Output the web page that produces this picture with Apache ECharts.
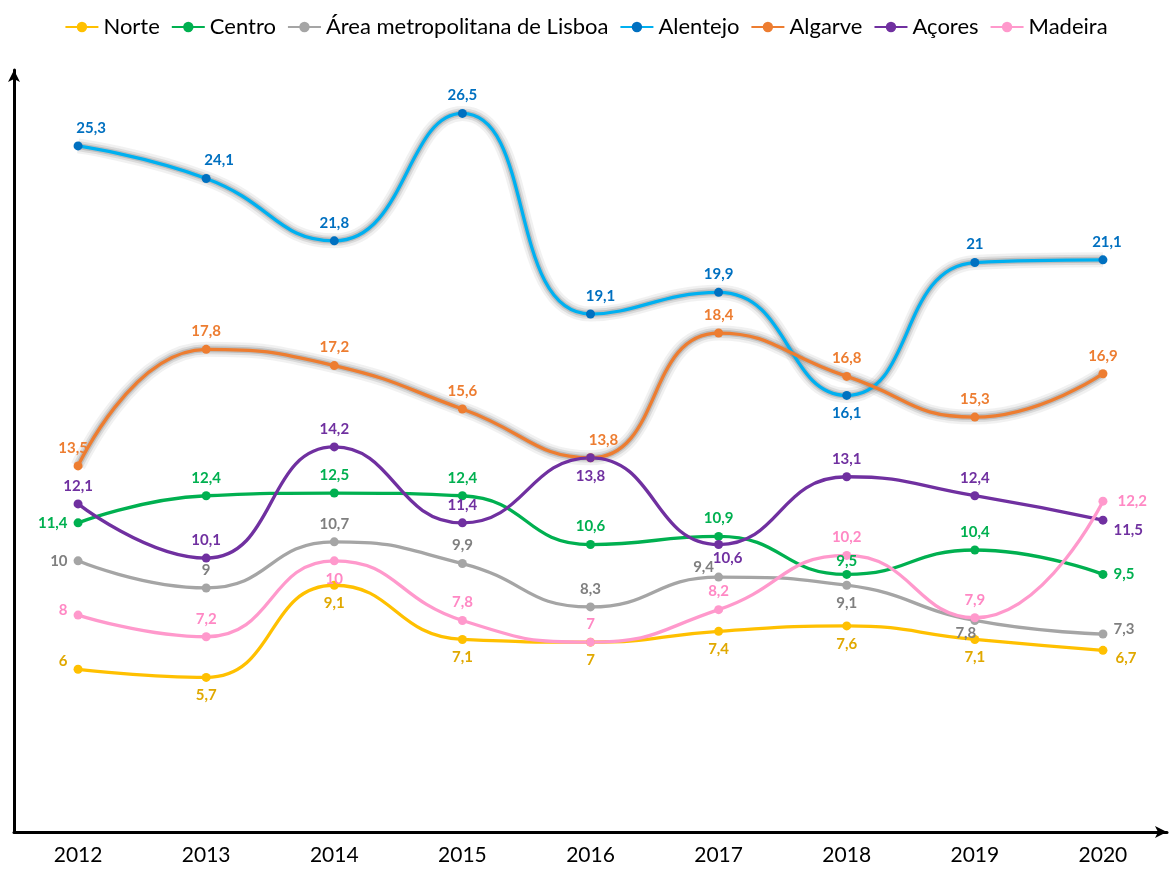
<!DOCTYPE html>
<html>
<head>
<meta charset="utf-8">
<script src="https://cdn.jsdelivr.net/npm/echarts@6/dist/echarts.min.js"></script>
<style>
html,body{margin:0;padding:0;background:#fff;}
#chart{width:1172px;height:873px;}
</style>
</head>
<body>
<div id="chart"></div>
<script>
const years = ['2012','2013','2014','2015','2016','2017','2018','2019','2020'];

const norte    = [6, 5.7, 9.1, 7.1, 7, 7.4, 7.6, 7.1, 6.7];
const centro   = [11.4, 12.4, 12.5, 12.4, 10.6, 10.9, 9.5, 10.4, 9.5];
const lisboa   = [10, 9, 10.7, 9.9, 8.3, 9.4, 9.1, 7.8, 7.3];
const alentejo = [25.3, 24.1, 21.8, 26.5, 19.1, 19.9, 16.1, 21, 21.1];
const algarve  = [13.5, 17.8, 17.2, 15.6, 13.8, 18.4, 16.8, 15.3, 16.9];
const acores   = [12.1, 10.1, 14.2, 11.4, 13.8, 10.6, 13.1, 12.4, 11.5];
const madeira  = [8, 7.2, 10, 7.8, 7, 8.2, 10.2, 7.9, 12.2];

const names = ['Norte','Centro','Área metropolitana de Lisboa','Alentejo','Algarve','Açores','Madeira'];

// label placement per point: [position, dx, dy]
const T = ['top',0,0], B = ['bottom',0,0], L = ['left',0,0], R = ['right',0,0];
const labelPlace = {
  'Norte':   [['left',0,-8], B, B, B, B, B, B, B, ['right',2,8]],
  'Centro':  [L, T, T, T, T, T, ['top',0,5], T, R],
  'Área metropolitana de Lisboa': [L, T, T, T, T, ['top',-15,8], B, ['bottom',-9,-5], ['right',0,-5]],
  'Alentejo':[['top',13,0], ['top',13,0], T, T, ['top',10,0], T, B, T, ['top',4,0]],
  'Algarve': [['top',-5,0], T, T, T, ['top',13,0], T, T, T, T],
  'Açores':  [T, T, T, T, B, ['bottom',9,-4], T, T, ['right',0,10]],
  'Madeira': [['left',0,-5], T, B, T, T, T, T, T, ['right',4,0]]
};

const styles = {
  'Norte':   {line:'#FFC000', mark:'#FFC000', label:'#E0A800', glow:false},
  'Centro':  {line:'#00B050', mark:'#00B050', label:'#00B050', glow:false},
  'Área metropolitana de Lisboa': {line:'#A5A5A5', mark:'#A5A5A5', label:'#7F7F7F', glow:false},
  'Alentejo':{line:'#00B0F0', mark:'#0070C0', label:'#0070C0', glow:true},
  'Algarve': {line:'#ED7D31', mark:'#ED7D31', label:'#ED7D31', glow:true},
  'Açores':  {line:'#7030A0', mark:'#7030A0', label:'#7030A0', glow:false},
  'Madeira': {line:'#FF99CC', mark:'#FF99CC', label:'#FF88C4', glow:false}
};

const values = {
  'Norte':norte,'Centro':centro,'Área metropolitana de Lisboa':lisboa,
  'Alentejo':alentejo,'Algarve':algarve,'Açores':acores,'Madeira':madeira
};

const FONT = 'Lato, "Open Sans", sans-serif';

const series = [];
// soft grey glow underneath the Alentejo and Algarve lines
names.forEach(function(n){
  if (!styles[n].glow) return;
  [[15, 'rgba(150,150,150,0.13)'], [10, 'rgba(140,140,140,0.22)'], [6, 'rgba(120,120,120,0.3)']].forEach(function(g){
    series.push({
      name: n + ' (glow)',
      type: 'line',
      smooth: 0.5,
      symbol: 'none',
      silent: true,
      z: 1,
      lineStyle: {color: g[1], width: g[0]},
      data: values[n]
    });
  });
});

names.forEach(function(n){
  const st = styles[n];
  series.push({
    name: n,
    type: 'line',
    smooth: 0.5,
    symbol: 'circle',
    symbolSize: 9,
    z: 2,
    lineStyle: {color: st.line, width: 3.3},
    itemStyle: {color: st.mark},
    data: values[n].map(function(v, i){
      const p = labelPlace[n][i];
      return {value: v, label: {position: p[0], offset: [p[1], p[2]]}};
    }),
    label: {
      show: true,
      color: st.label,
      fontFamily: FONT,
      fontWeight: 'bold',
      fontSize: 15,
      distance: 6,
      formatter: function(p){ return String(p.value).replace('.', ','); }
    }
  });
});

const chart = echarts.init(document.getElementById('chart'));
chart.setOption({
  animation: false,
  backgroundColor: '#fff',
  legend: {
    top: 11,
    left: 'center',
    itemWidth: 33,
    itemHeight: 13,
    itemGap: 11,
    textStyle: {fontFamily: FONT, fontSize: 22, color: '#000'},
    data: names
  },
  grid: {left: 14, right: 5, top: 70, bottom: 41, containLabel: false},
  xAxis: {
    type: 'category',
    data: years,
    boundaryGap: true,
    axisLine: {show: true, lineStyle: {color: '#000', width: 3}, symbol: ['none','arrow'], symbolSize: [9, 12]},
    axisTick: {show: false},
    axisLabel: {color: '#000', fontFamily: FONT, fontSize: 21, margin: 13}
  },
  yAxis: {
    type: 'value',
    min: 0,
    max: 28.1,
    axisLine: {show: true, lineStyle: {color: '#000', width: 3}, symbol: ['none','arrow'], symbolSize: [9, 12]},
    axisTick: {show: false},
    axisLabel: {show: false},
    splitLine: {show: false}
  },
  series: series
});
</script>
</body>
</html>
